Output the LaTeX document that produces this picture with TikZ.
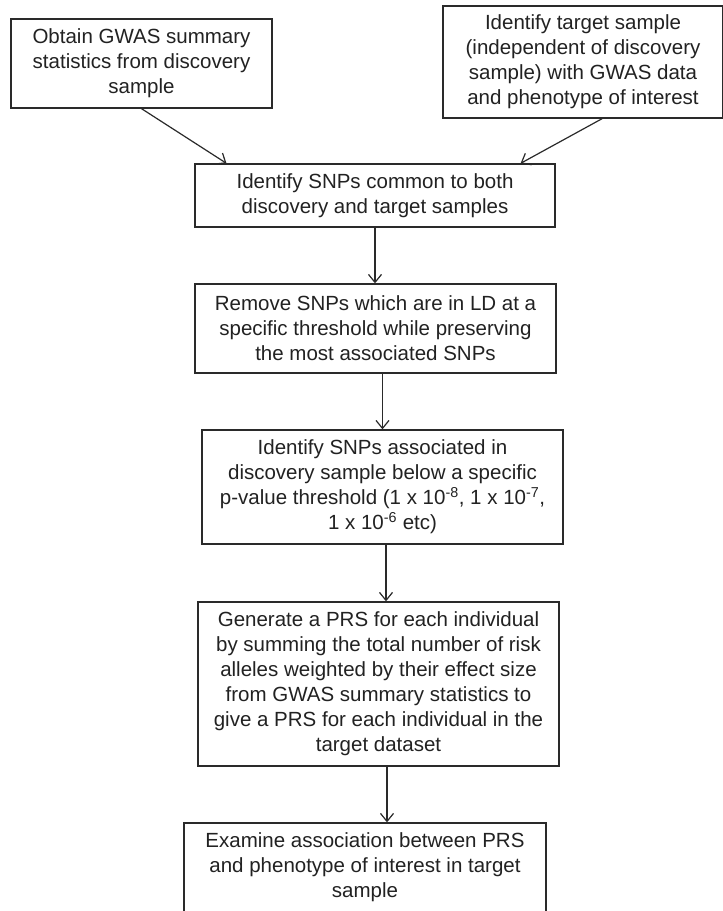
\documentclass[tikz,border=0pt]{standalone}
\usepackage{fontspec}
\setmainfont{Liberation Sans}
\usetikzlibrary{calc, arrows.meta}
\definecolor{boxline}{HTML}{2A2A2A}
\definecolor{boxtext}{HTML}{222222}

\begin{document}
\begin{tikzpicture}[x=1pt, y=1pt,
        stepbox/.style={draw=boxline, line width=1.3pt, text=boxtext, align=center, inner sep=0pt, font=\fontsize{20.5}{25}\selectfont},
        flow/.style={boxline, line width=1.2pt, -{Straight Barb[length=8pt, width=13pt]}}]
        \useasboundingbox (0,0) rectangle (723,-911);
        \clip (0,0) rectangle (723,-911);
        \fill[white] (0,0) rectangle (723,-911);

        \node[stepbox, minimum width=261, minimum height=89] (gwas) at (141.5,-63.5) {Obtain GWAS summary\\statistics from discovery\\sample};
        \node[stepbox, minimum width=280, minimum height=112] (target) at (583,-62) {Identify target sample\\(independent of discovery\\sample) with GWAS data\\and phenotype of interest};
        \node[stepbox, minimum width=360, minimum height=63] (common) at (375,-195.5) {Identify SNPs common to both\\discovery and target samples};
        \node[stepbox, minimum width=361, minimum height=89] (prune) at (375.5,-328.5) {Remove SNPs which are in LD at a\\specific threshold while preserving\\the most associated SNPs};
        \node[stepbox, minimum width=361, minimum height=114] (thresh) at (382.5,-487) {Identify SNPs associated in\\discovery sample below a specific\\p-value threshold (1 x 10\textsuperscript{-8}, 1 x 10\textsuperscript{-7},\\1 x 10\textsuperscript{-6} etc)};
        \node[stepbox, minimum width=361, minimum height=164] (prs) at (378.5,-684) {Generate a PRS for each individual\\by summing the total number of risk\\alleles weighted by their effect size\\from GWAS summary statistics to\\give a PRS for each individual in the\\target dataset};
        \node[stepbox, minimum width=362, minimum height=89] (assoc) at (365,-867.5) {Examine association between PRS\\and phenotype of interest in target\\sample};

        \draw[flow] (gwas.south) -- ($(common.north west)!0.089!(common.north east)$);
        \draw[flow] ($(target.south west)!0.568!(target.south east)$) -- ($(common.north west)!0.903!(common.north east)$);
        \draw[flow] (common.south) -- (common.south |- prune.north);
        \draw[flow] (thresh.north |- prune.south) -- (thresh.north);
        \draw[flow] ([xshift=3.5pt]thresh.south) -- ([xshift=3.5pt]thresh.south |- prs.north);
        \draw[flow] ([xshift=8.5pt]prs.south) -- ([xshift=8.5pt]prs.south |- assoc.north);
\end{tikzpicture}
\end{document}
